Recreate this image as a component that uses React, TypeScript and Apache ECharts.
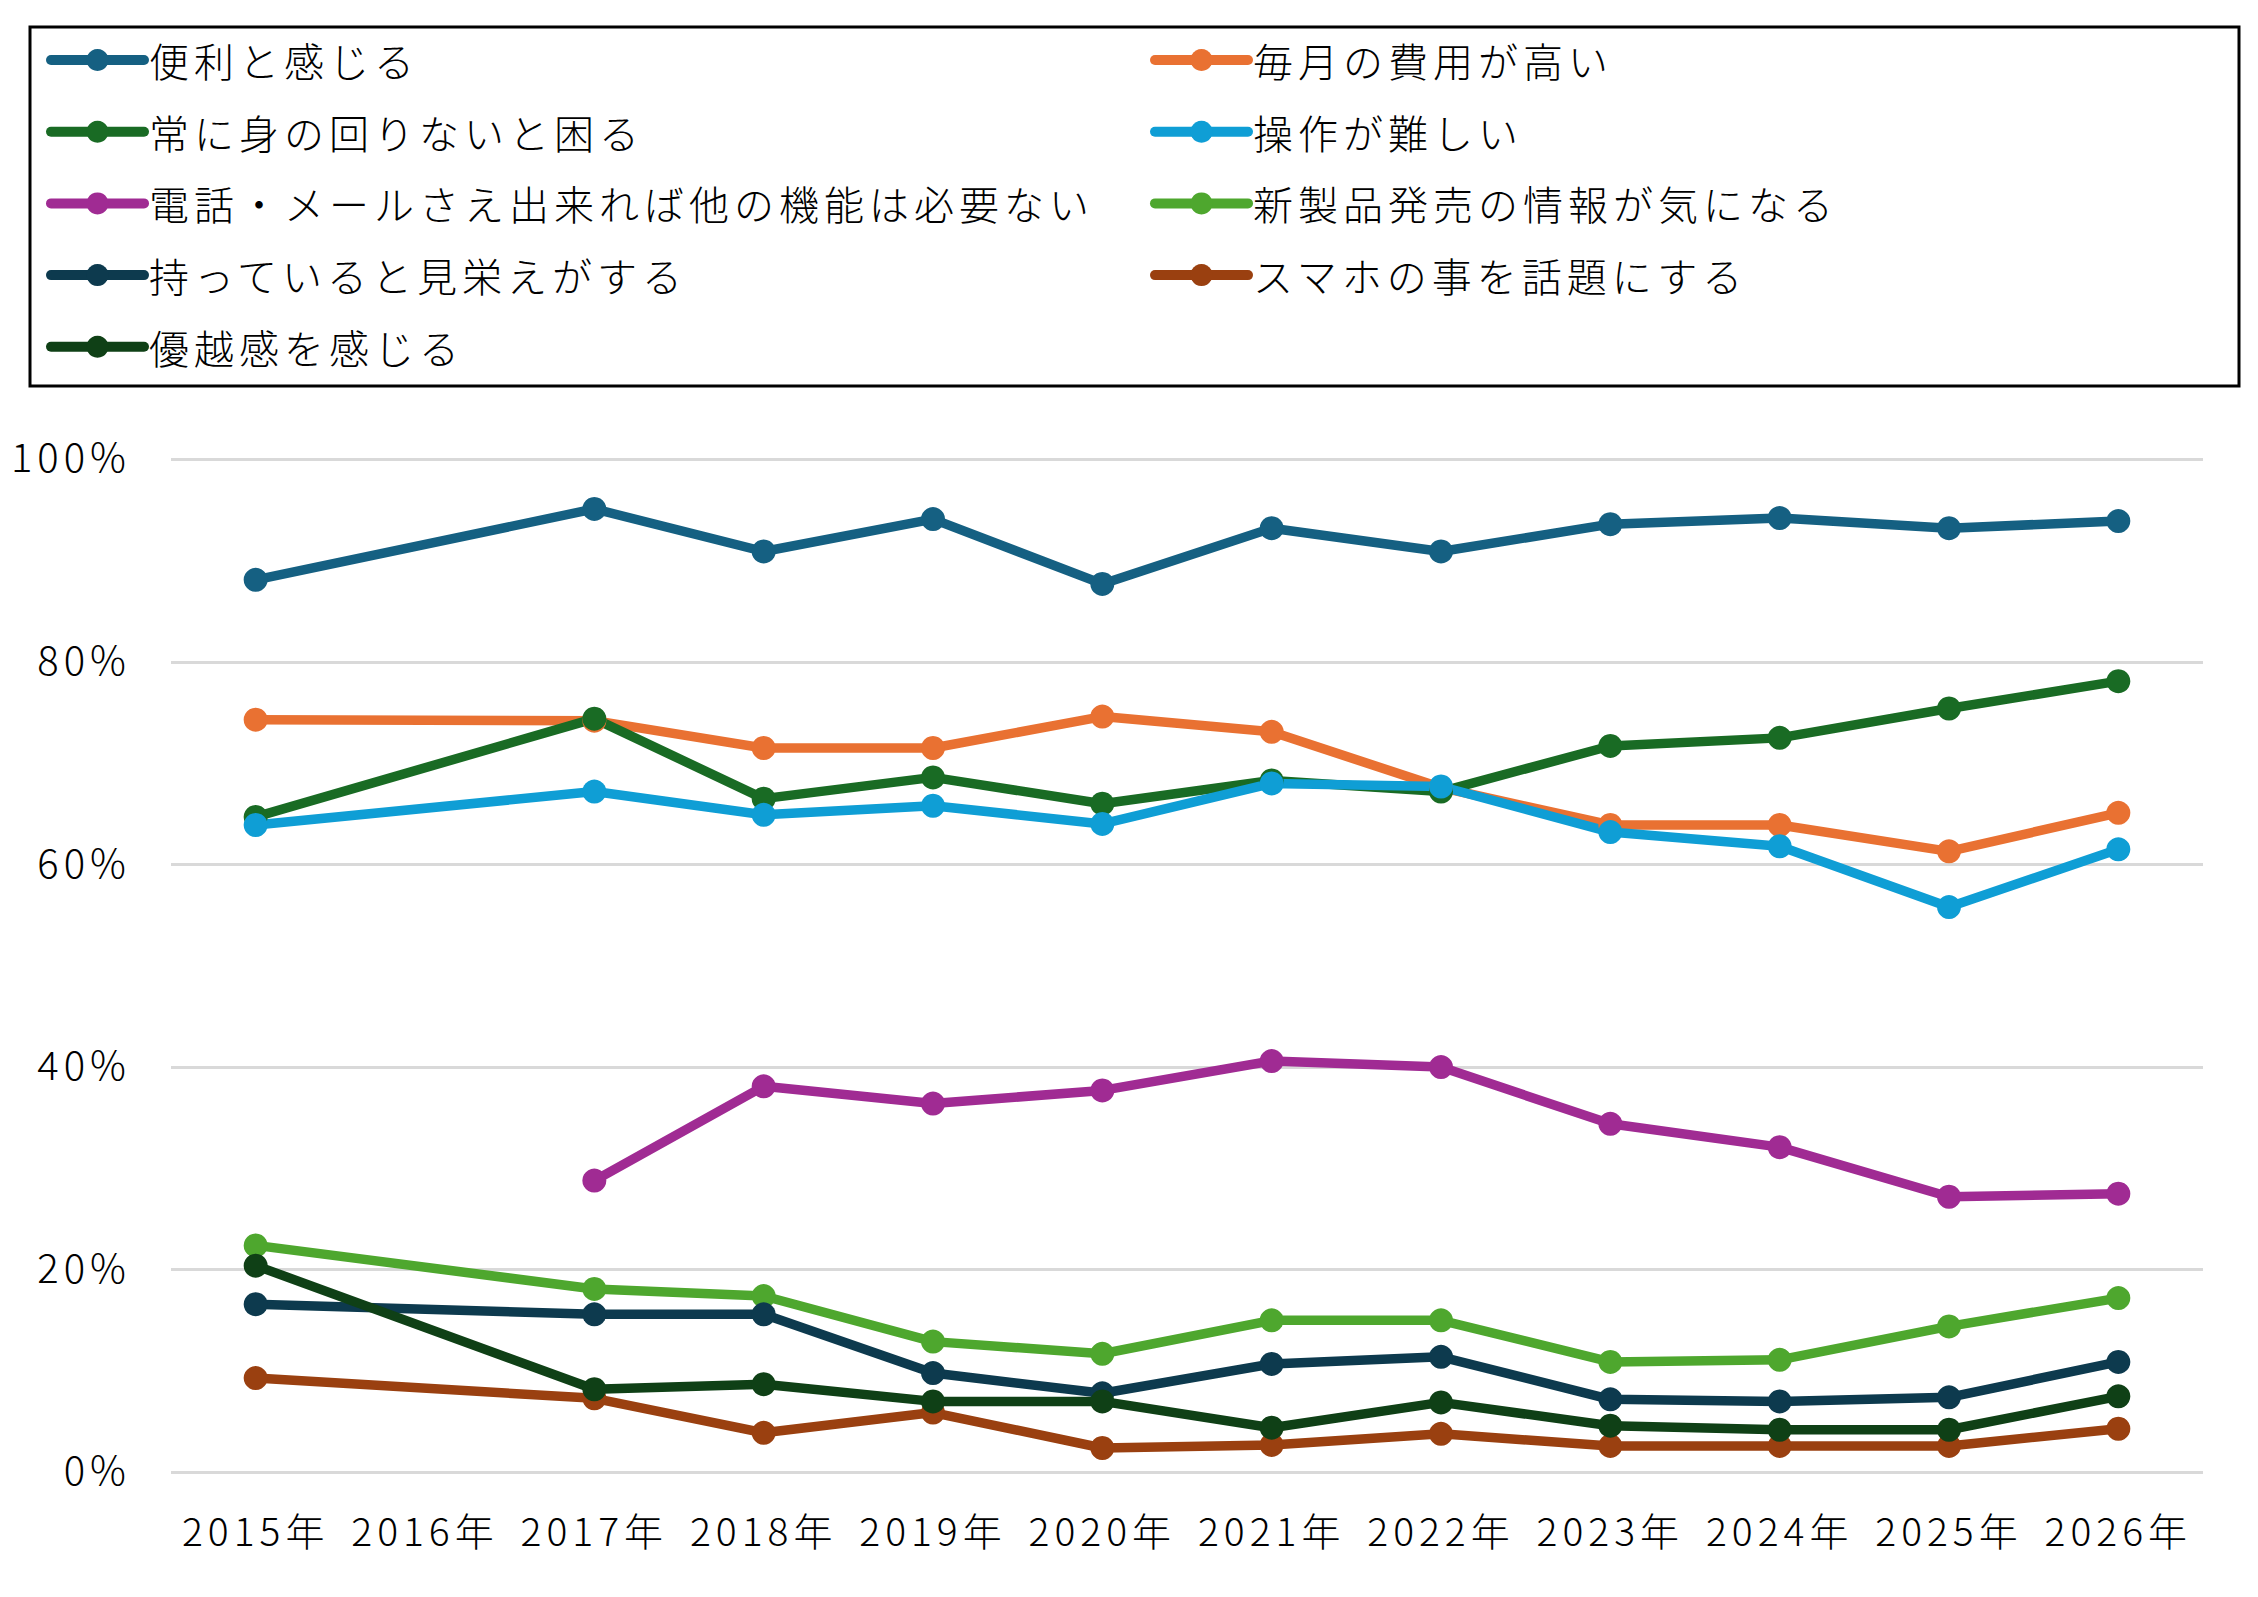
import React, { useEffect, useRef } from "react";
import * as echarts from "echarts";

const categories = ["2015年", "2016年", "2017年", "2018年", "2019年", "2020年", "2021年", "2022年", "2023年", "2024年", "2025年", "2026年"];
const yTicks = [0, 20, 40, 60, 80, 100];

const seriesNames = [
  "便利と感じる",
  "毎月の費用が高い",
  "常に身の回りないと困る",
  "操作が難しい",
  "電話・メールさえ出来れば他の機能は必要ない",
  "新製品発売の情報が気になる",
  "持っていると見栄えがする",
  "スマホの事を話題にする",
  "優越感を感じる",
];

const convenient = [88.1, null, 95.1, 90.9, 94.1, 87.7, 93.2, 90.9, 93.6, 94.2, 93.2, 93.9];
const monthlyCost = [74.3, null, 74.2, 71.5, 71.5, 74.6, 73.1, 67.6, 63.9, 63.9, 61.3, 65.1];
const alwaysNeeded = [64.7, null, 74.4, 66.5, 68.6, 66.0, 68.3, 67.2, 71.7, 72.5, 75.4, 78.1];
const hardToUse = [63.9, null, 67.2, 64.9, 65.8, 64.0, 68.0, 67.7, 63.2, 61.8, 55.8, 61.5];
const callMailOnly = [null, null, 28.8, 38.1, 36.4, 37.7, 40.6, 40.0, 34.4, 32.1, 27.2, 27.5];
const newProducts = [22.4, null, 18.1, 17.4, 12.9, 11.7, 15.0, 15.0, 10.9, 11.1, 14.4, 17.2];
const showOff = [16.6, null, 15.6, 15.6, 9.8, 7.8, 10.7, 11.4, 7.2, 7.0, 7.4, 10.9];
const topicTalk = [9.3, null, 7.3, 3.9, 5.9, 2.4, 2.7, 3.8, 2.6, 2.6, 2.6, 4.3];
const superiority = [20.4, null, 8.2, 8.7, 7.0, 7.0, 4.4, 6.9, 4.6, 4.2, 4.2, 7.5];

const seriesValues = [convenient, monthlyCost, alwaysNeeded, hardToUse, callMailOnly, newProducts, showOff, topicTalk, superiority];
const seriesColors = ["#156082", "#e97132", "#196b24", "#0f9ed5", "#a02b93", "#4ea72e", "#0d3a4e", "#9a4010", "#0f4016"];

const FONT = "'Noto Sans CJK JP', 'Noto Sans', sans-serif";

export default function App() {
  const ref = useRef<HTMLDivElement>(null);
  useEffect(() => {
    document.body.style.margin = "0";
    if (!ref.current) return;
    const chart = echarts.init(ref.current, undefined, { renderer: "svg" });
    const legendCommon = {
      orient: "vertical",
      itemWidth: 93,
      itemHeight: 27.5,
      itemGap: 27.7,
      padding: 0,
      textStyle: { fontSize: 40, color: "#000", fontFamily: FONT, fontWeight: 300, lineHeight: 44 },
      lineStyle: { width: 10, cap: "round" },
      itemStyle: { borderWidth: 0 },
      selectedMode: false,
    };
    chart.setOption({
      animation: false,
      backgroundColor: "#fff",
      textStyle: { fontFamily: FONT },
      graphic: [
        {
          type: "rect",
          shape: { x: 30, y: 27, width: 2209, height: 359 },
          style: { fill: "none", stroke: "#000", lineWidth: 3 },
          z: -1,
        },
      ],
      legend: [
        { ...legendCommon, left: 46, top: 38, data: [seriesNames[0], seriesNames[2], seriesNames[4], seriesNames[6], seriesNames[8]] },
        { ...legendCommon, left: 1150, top: 38, data: [seriesNames[1], seriesNames[3], seriesNames[5], seriesNames[7]] },
      ],
      grid: { left: 171, right: 55, top: 459.3, bottom: 1597 - 1472.3, containLabel: false },
      xAxis: {
        type: "category",
        data: categories,
        boundaryGap: true,
        axisLine: { show: false },
        axisTick: { show: false },
        axisLabel: { fontSize: 39, color: "#000", margin: 37, interval: 0, fontFamily: FONT, fontWeight: 300 },
      },
      yAxis: {
        type: "value",
        min: yTicks[0],
        max: yTicks[yTicks.length - 1],
        interval: 20,
        axisLine: { show: false },
        axisTick: { show: false },
        axisLabel: {
          fontSize: 40,
          color: "#000",
          margin: 40,
          formatter: "{value}%",
          fontFamily: FONT,
          fontWeight: 300,
          verticalAlign: "bottom",
          lineHeight: 8,
        },
        splitLine: { lineStyle: { color: "#d9d9d9", width: 3 } },
      },
      series: seriesNames.map((name, i) => ({
        name,
        type: "line",
        data: seriesValues[i],
        connectNulls: true,
        symbol: "circle",
        symbolSize: 24,
        color: seriesColors[i],
        lineStyle: { width: 9.5, color: seriesColors[i] },
        itemStyle: { color: seriesColors[i] },
      })),
    });
    return () => chart.dispose();
  }, []);
  return <div ref={ref} style={{ width: 2258, height: 1597, letterSpacing: "5px" }} />;
}
